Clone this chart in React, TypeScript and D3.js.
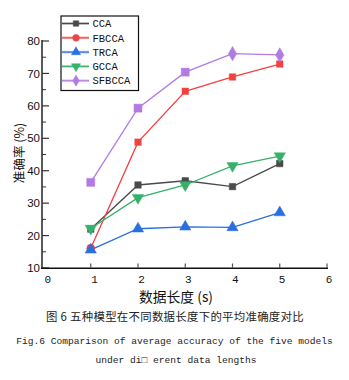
import React from "react";
import * as d3 from "d3";

const xValues = [1, 2, 3, 4, 5];
const seriesNames = ["CCA", "FBCCA", "TRCA", "GCCA", "SFBCCA"];
const ccaValues = [22.0, 35.6, 36.9, 35.1, 42.2];
const fbccaValues = [16.1, 48.8, 64.5, 68.9, 72.9];
const trcaValues = [15.6, 22.1, 22.7, 22.5, 27.1];
const gccaValues = [22.2, 31.7, 35.6, 41.5, 44.5];
const sfbccaValues = [36.4, 59.3, 70.4, 76.1, 75.7];
const xTicks = [0, 1, 2, 3, 4, 5, 6];
const yTicks = [10, 20, 30, 40, 50, 60, 70, 80];
const yMinorTicks = [15, 25, 35, 45, 55, 65, 75];

const colors = ["#4a4a4a", "#f04242", "#2a6fe0", "#36b06a", "#b27be2"];
const legendShapes = ["square", "circle", "triangle", "down", "diamond"];
const pointShapes = [
  ["square", "square", "square", "square", "square"],
  ["circle", "square", "square", "square", "square"],
  ["triangle", "triangle", "triangle", "triangle", "triangle"],
  ["down", "down", "down", "down", "down"],
  ["square", "square", "square", "diamond", "diamond"],
];

const allValues = [ccaValues, fbccaValues, trcaValues, gccaValues, sfbccaValues];

function symbolPath(shape: string, size: number) {
  const t =
    shape === "square"
      ? d3.symbolSquare
      : shape === "circle"
      ? d3.symbolCircle
      : shape === "triangle" || shape === "down"
      ? d3.symbolTriangle
      : d3.symbolDiamond;
  return d3.symbol().type(t).size(size)();
}

function Marker({ shape, x, y, color, size }: any) {
  const rot = shape === "down" ? " rotate(180)" : "";
  return (
    <path
      d={symbolPath(shape, size) as string}
      transform={`translate(${x},${y})${rot}`}
      fill={color}
      stroke={color}
      strokeWidth={0.5}
    />
  );
}

export default function App() {
  const W = 349;
  const H = 380;
  const x = d3.scaleLinear().domain([0, 6]).range([43.5, 327]);
  const xLab = d3.scaleLinear().domain([0, 6]).range([47.7, 329]);
  const y = d3.scaleLinear().domain([10, 80]).range([268, 41]);
  const line = d3
    .line<number>()
    .x((_, i) => x(xValues[i]))
    .y((d) => y(d));

  const sizeFor = (shape: string, si: number) => {
    if (shape === "square") return si === 4 ? 64 : 42;
    if (shape === "circle") return 50;
    if (shape === "diamond") return 60;
    return 55;
  };

  const legX = 61;
  const legY = 16;
  const legStep = 14.3;

  return (
    <svg
      width={W}
      height={H}
      style={{ position: "absolute", left: 0, top: 0, background: "#fff" }}
    >
      <rect x={0} y={0} width={W} height={H} fill="#fff" />
      {allValues.map((vals, si) => (
        <path
          key={"l" + si}
          d={line(vals) as string}
          fill="none"
          stroke={colors[si]}
          strokeWidth={1.3}
        />
      ))}
      {allValues.map((vals, si) =>
        vals.map((v, i) => (
          <Marker
            key={`m${si}-${i}`}
            shape={pointShapes[si][i]}
            x={x(xValues[i])}
            y={y(v)}
            color={colors[si]}
            size={sizeFor(pointShapes[si][i], si)}
          />
        ))
      )}
      {/* y axis */}
      <line x1={42} x2={42} y1={40} y2={268.5} stroke="#5a5a5a" strokeWidth={2} />
      {yTicks.map((t) => (
        <g key={"yt" + t}>
          <line x1={42} x2={49} y1={y(t)} y2={y(t)} stroke="#333" strokeWidth={1.2} />
          <text
            x={40}
            y={y(t)}
            dy="0.36em"
            textAnchor="end"
            fontFamily="'Liberation Sans', Arial, sans-serif"
            fontSize={11.5}
            fill="#111"
          >
            {t}
          </text>
        </g>
      ))}
      {yMinorTicks.map((t) => (
        <line key={"ym" + t} x1={42} x2={46} y1={y(t)} y2={y(t)} stroke="#333" strokeWidth={1} />
      ))}
      {/* x axis */}
      <line x1={41} x2={328} y1={268.3} y2={268.3} stroke="#111" strokeWidth={1.6} />
      {xTicks.map((t) => (
        <g key={"xt" + t}>
          {t > 0 && (
            <line x1={x(t)} x2={x(t)} y1={268} y2={263.5} stroke="#555" strokeWidth={1.2} />
          )}
          <text
            x={xLab(t)}
            y={282.5}
            textAnchor="middle"
            fontFamily="'Liberation Mono', monospace"
            fontSize={11}
            fill="#111"
          >
            {t}
          </text>
        </g>
      ))}
      {/* axis titles */}
      <text
        x={176}
        y={301.5}
        textAnchor="middle"
        fontFamily="'Noto Sans CJK SC', sans-serif"
        fontSize={13.8}
        fill="#111"
      >
        数据长度 (s)
      </text>
      <text
        transform={`translate(24,153) rotate(-90)`}
        textAnchor="middle"
        fontFamily="'Noto Sans CJK SC', sans-serif"
        fontSize={12.5}
        fill="#111"
      >
        准确率 (%)
      </text>
      {/* legend */}
      <rect
        x={legX}
        y={legY}
        width={77.5}
        height={74.5}
        fill="#fff"
        stroke="#111"
        strokeWidth={1.2}
      />
      {seriesNames.map((name, i) => {
        const cy = legY + 7.5 + i * legStep;
        return (
          <g key={"lg" + i}>
            <line
              x1={legX + 1}
              x2={legX + 28}
              y1={cy}
              y2={cy}
              stroke={colors[i]}
              strokeOpacity={0.45}
              strokeWidth={2.6}
            />
            <line x1={legX + 1} x2={legX + 28} y1={cy} y2={cy} stroke={colors[i]} strokeWidth={1} />
            <Marker
              shape={legendShapes[i]}
              x={legX + 15}
              y={cy}
              color={colors[i]}
              size={legendShapes[i] === "square" ? 30 : 36}
            />
            <text
              x={legX + 31.5}
              y={cy}
              dy="0.36em"
              fontFamily="'Liberation Mono', monospace"
              fontSize={10.5}
              fill="#111"
            >
              {name}
            </text>
          </g>
        );
      })}
      {/* captions */}
      <text
        x={175}
        y={321}
        textAnchor="middle"
        fontFamily="'Noto Sans CJK SC', sans-serif"
        fontSize={11.4}
        letterSpacing={0.3}
        fill="#222"
      >
        图 6 五种模型在不同数据长度下的平均准确度对比
      </text>
      <text
        x={174.5}
        y={343.5}
        textAnchor="middle"
        fontFamily="'Liberation Mono', monospace"
        fontSize={9.6}
        fill="#222"
      >
        Fig.6 Comparison of average accuracy of the five models
      </text>
      <text
        x={176}
        y={362.5}
        textAnchor="middle"
        fontFamily="'Liberation Mono', monospace"
        fontSize={9.6}
        fill="#222"
      >
        under di□ erent data lengths
      </text>
    </svg>
  );
}
